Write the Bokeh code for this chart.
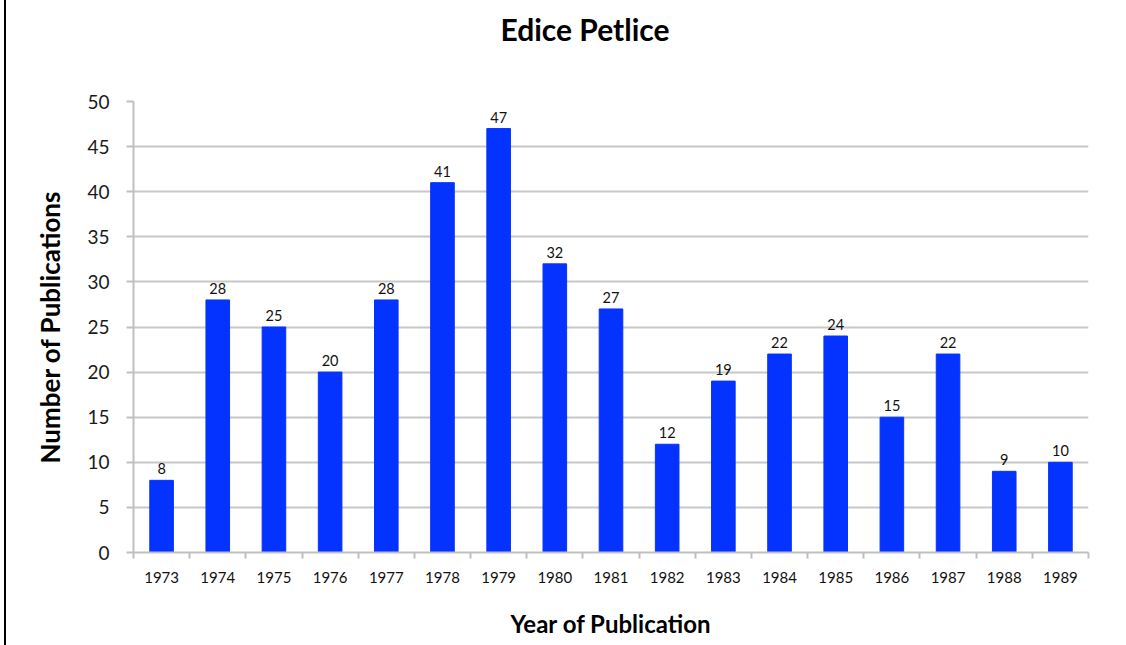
import numpy as np
from bokeh.plotting import figure
from bokeh.models import ColumnDataSource, Range1d, FixedTicker, SingleIntervalTicker, Title
from bokeh.core.properties import value
from bokeh.embed import file_html
from bokeh.resources import INLINE

years = ["1973", "1974", "1975", "1976", "1977", "1978", "1979", "1980", "1981",
         "1982", "1983", "1984", "1985", "1986", "1987", "1988", "1989"]
counts = [8, 28, 25, 20, 28, 41, 47, 32, 27, 12, 19, 22, 24, 15, 22, 9, 10]

title_text = "Edice Petlice"
x_label = "Year of Publication"
y_label = "Number of Publications"

FONT = "Lato"
n = len(years)
xs = np.arange(n) + 0.5

src = ColumnDataSource(dict(x=xs, top=counts, label=[str(c) for c in counts]))

p = figure(width=1114, height=645, output_backend="svg", toolbar_location=None,
           x_range=Range1d(0, n), y_range=Range1d(0, 50),
           min_border_left=127, min_border_right=32, min_border_top=101, min_border_bottom=93)
p.styles = {"margin-left": "4px", "border-left": "2px solid black"}

# spacer between frame and title
spacer = Title(text=" ", text_font_size="10px", standoff=42)
p.add_layout(spacer, "above")

main_title = Title(text=title_text, align="left", offset=367, standoff=0,
                   text_font=FONT, text_font_size="30px", text_font_style="bold",
                   text_color="black")
p.add_layout(main_title, "above")

p.vbar(x="x", top="top", width=0.42, bottom=0, source=src, color="#0433FF")
p.text(x="x", y="top", text="label", source=src, text_align="center",
       text_baseline="bottom", y_offset=-6, text_font=value(FONT),
       text_font_size="14.5px", text_color="#111111")

p.outline_line_color = None
p.xgrid.grid_line_color = None
p.ygrid.grid_line_color = "#c8c8c8"
p.ygrid.grid_line_width = 2
p.ygrid.ticker = SingleIntervalTicker(interval=5)

xa = p.xaxis[0]
xa.ticker = FixedTicker(ticks=list(xs), minor_ticks=list(range(n + 1)))
xa.major_label_overrides = {float(x): y for x, y in zip(xs, years)}
xa.major_tick_line_color = None
xa.major_tick_out = 0
xa.major_tick_in = 0
xa.minor_tick_out = 6
xa.minor_tick_in = 0
xa.minor_tick_line_color = "#c0c0c0"
xa.minor_tick_line_width = 2
xa.axis_line_color = "#c0c0c0"
xa.axis_line_width = 2
xa.major_label_text_font = FONT
xa.major_label_text_font_size = "15px"
xa.major_label_text_color = "#111111"
xa.major_label_standoff = 13
xa.axis_label = x_label
xa.axis_label_text_font = FONT
xa.axis_label_text_font_size = "24px"
xa.axis_label_text_font_style = "bold"
xa.axis_label_text_color = "black"
xa.axis_label_standoff = 23

ya = p.yaxis[0]
ya.ticker = SingleIntervalTicker(interval=5)
ya.minor_tick_line_color = None
ya.major_tick_out = 7
ya.major_tick_in = 0
ya.major_tick_line_color = "#c0c0c0"
ya.major_tick_line_width = 2
ya.axis_line_color = "#c0c0c0"
ya.axis_line_width = 2
ya.major_label_text_font = FONT
ya.major_label_text_font_size = "19px"
ya.major_label_text_color = "#1a1a1a"
ya.major_label_standoff = 17
ya.axis_label = y_label
ya.axis_label_text_font = FONT
ya.axis_label_text_font_size = "26px"
ya.axis_label_text_font_style = "bold"
ya.axis_label_text_color = "black"
ya.axis_label_standoff = 18

open("out.html", "w").write(file_html(p, INLINE))
